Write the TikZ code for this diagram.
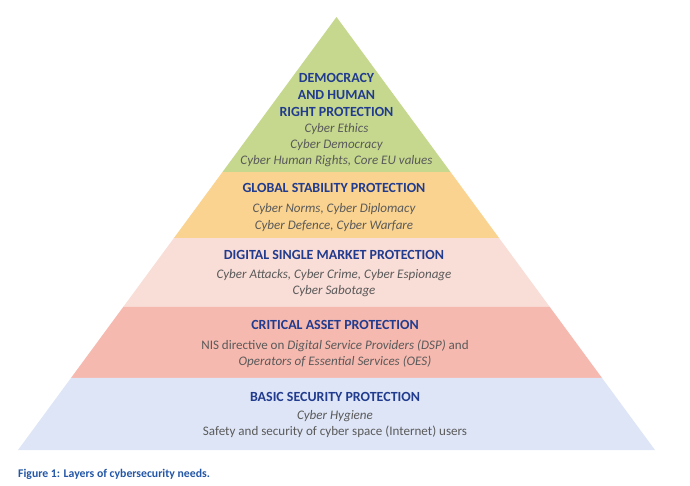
\documentclass[tikz,border=0pt]{standalone}
\usepackage{fontspec}
\setmainfont{Carlito}
\usetikzlibrary{calc}
\definecolor{cgreen}{HTML}{C5D88E}
\definecolor{corange}{HTML}{FAD390}
\definecolor{cpinkl}{HTML}{F9DDD7}
\definecolor{csalmon}{HTML}{F6B9AF}
\definecolor{cblue}{HTML}{DEE5F6}
\definecolor{ctitle}{HTML}{213B8E}
\definecolor{cbody}{HTML}{5A5A5A}
\definecolor{ccap}{HTML}{2356A6}
\tikzset{
  ttl/.style={font=\fontsize{14}{15}\selectfont\bfseries, text=ctitle, inner sep=0pt, anchor=center},
  bdy/.style={font=\fontsize{13.1}{16.2}\selectfont, text=cbody, inner sep=0pt, align=center, anchor=center},
}
\begin{document}
\begin{tikzpicture}[x=1bp,y=-1bp]
\useasboundingbox (0,0) rectangle (690,486);
\coordinate (A) at (336.5,17);
\coordinate (BL) at (18,450);
\coordinate (BR) at (655,450);
\coordinate (L1) at ($(A)!0.358!(BL)$);  \coordinate (R1) at ($(A)!0.358!(BR)$);
\coordinate (L2) at ($(A)!0.5104!(BL)$); \coordinate (R2) at ($(A)!0.5104!(BR)$);
\coordinate (L3) at ($(A)!0.6697!(BL)$); \coordinate (R3) at ($(A)!0.6697!(BR)$);
\coordinate (L4) at ($(A)!0.8337!(BL)$); \coordinate (R4) at ($(A)!0.8337!(BR)$);
\fill[cgreen] (A) -- (L1) -- (R1) -- cycle;
\fill[corange] (L1) -- (L2) -- (R2) -- (R1) -- cycle;
\fill[cpinkl] (L2) -- (L3) -- (R3) -- (R2) -- cycle;
\fill[csalmon] (L3) -- (L4) -- (R4) -- (R3) -- cycle;
\fill[cblue] (L4) -- (BL) -- (BR) -- (R4) -- cycle;

\node[ttl] (t1a) at (336.5,78) {DEMOCRACY};
\node[ttl] (t1b) at (336.5,95) {AND HUMAN};
\node[ttl] (t1c) at (336.5,112) {RIGHT PROTECTION};
\node[bdy] (b1) at (336.5,145) {\itshape Cyber Ethics\\\itshape Cyber Democracy\\\itshape Cyber Human Rights, Core EU values};

\node[ttl] (t2) at (334,188) {GLOBAL STABILITY PROTECTION};
\node[bdy] (b2) at (334,217.5) {\itshape Cyber Norms, Cyber Diplomacy\\\itshape Cyber Defence, Cyber Warfare};

\node[ttl] (t3) at (334,255) {DIGITAL SINGLE MARKET PROTECTION};
\node[bdy] (b3) at (334,283) {\itshape Cyber Attacks, Cyber Crime, Cyber Espionage\\\itshape Cyber Sabotage};

\node[ttl] (t4) at (335,325) {CRITICAL ASSET PROTECTION};
\node[bdy] (b4) at (335,354) {NIS directive on \textit{Digital Service Providers (DSP)} and\\\itshape Operators of Essential Services (OES)};

\node[ttl] (t5) at (335,397) {BASIC SECURITY PROTECTION};
\node[bdy] (b5) at (335,424) {\itshape Cyber Hygiene\\Safety and security of cyber space (Internet) users};

\node[font=\fontsize{11.8}{13}\selectfont\bfseries, text=ccap, inner sep=0pt, anchor=west] (cap) at (18,474) {Figure 1: Layers of cybersecurity needs.};
\end{tikzpicture}
\end{document}
